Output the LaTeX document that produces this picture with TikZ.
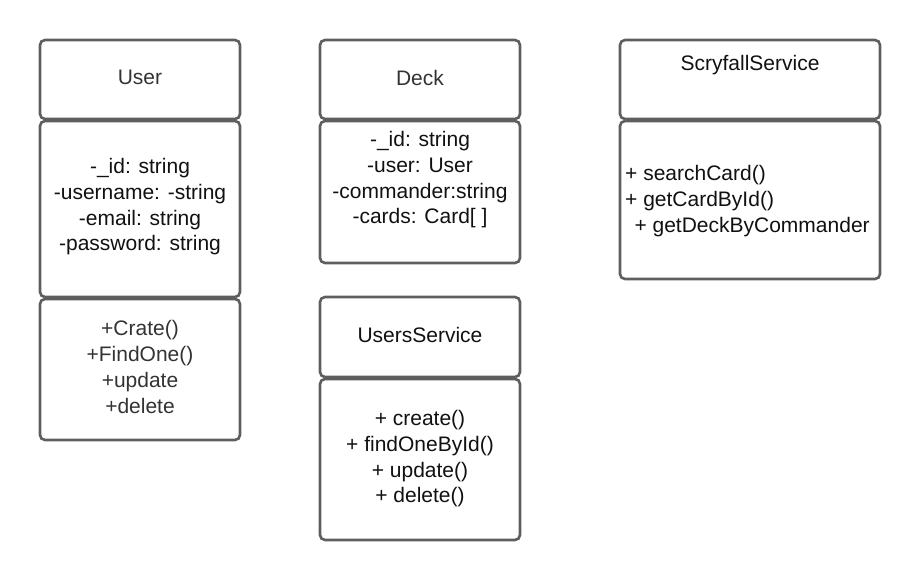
\documentclass[tikz,border=0pt]{standalone}
\usepackage{fontspec}
\setmainfont{Liberation Sans}
\definecolor{boxgray}{HTML}{5E5E5E}
\definecolor{txtgray}{HTML}{333333}
\definecolor{txtdark}{HTML}{111111}
\begin{document}
\begin{tikzpicture}[x=1pt,y=-1pt,
  box/.style={draw=boxgray, line width=2.6pt, rounded corners=5pt, inner sep=0pt, fill=white},
  txt/.style={font=\fontsize{21}{25.7}\selectfont, align=center, text=txtdark, inner sep=0pt},
  gtxt/.style={txt, text=txtgray}]
\useasboundingbox (0,0) rectangle (920,580);
\fill[white] (0,0) rectangle (920,580);
% boxes: (x1,y1) to (x2,y2)
\newcommand{\umlbox}[5]{\node[box, minimum width=#4-#2, minimum height=#5-#3] (#1) at ({(#2+#4)/2},{(#3+#5)/2}) {};}
\umlbox{userH}{40}{40}{240}{119}
\umlbox{userA}{40}{121}{240}{297}
\umlbox{userM}{40}{299}{240}{440}
\umlbox{deckH}{320}{40}{520}{119}
\umlbox{deckA}{320}{121}{520}{263}
\umlbox{usH}{320}{297}{520}{377}
\umlbox{usM}{320}{379}{520}{540}
\umlbox{scH}{620}{40}{880}{119}
\umlbox{scM}{620}{121}{880}{279}
% texts
\node[gtxt] (tUser) at (140,77) {User};
\node[txt] (tUserA) at (140,207) {-\_id: string\\-username: -string\\-email: string\\-password: string};
\node[gtxt] (tUserM) at (140,367) {+Crate()\\+FindOne()\\+update\\+delete};
\node[gtxt] (tDeck) at (420,78) {Deck};
\node[txt] (tDeckA) at (420,180) {-\_id: string\\-user: User\\-commander:string\\-cards: Card[ ]};
\node[txt] (tUS) at (420,335) {UsersService};
\node[txt] (tUSM) at (420,459) {+ create()\\+ findOneById()\\+ update()\\+ delete()};
\node[txt] (tSc) at (750,65) {ScryfallService};
\node[txt, align=left, anchor=west] (tScM) at (625,201) {+ searchCard()\\+ getCardById()\\\ \,+ getDeckByCommander};
\end{tikzpicture}
\end{document}
